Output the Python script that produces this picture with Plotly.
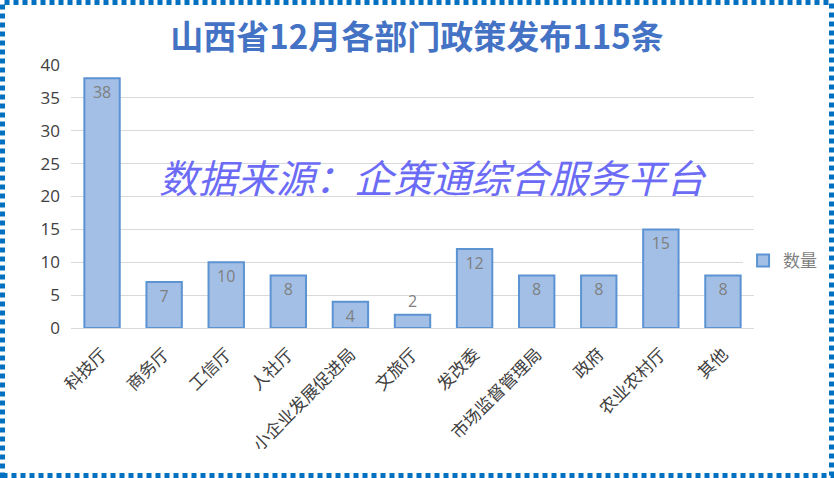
import plotly.graph_objects as go

categories = ["科技厅", "商务厅", "工信厅", "人社厅", "小企业发展促进局", "文旅厅",
              "发改委", "市场监督管理局", "政府", "农业农村厅", "其他"]
values = [38, 7, 10, 8, 4, 2, 12, 8, 8, 15, 8]
series_name = "数量"
title_text = "山西省12月各部门政策发布115条"
watermark = "数据来源：企策通综合服务平台"

fig = go.Figure()
fig.add_trace(go.Bar(
    x=categories, y=values, name=series_name,
    marker=dict(color="#A3BFE6", line=dict(color="#5B93D3", width=2)),
    text=values, textposition="auto", insidetextanchor="end", textangle=0,
    textfont=dict(color="#7F7F7F", size=16, family="Open Sans"),
    width=0.57, showlegend=True,
))

fig.update_layout(
    width=834, height=478,
    margin=dict(l=71, r=80, t=65, b=150, autoexpand=False),
    paper_bgcolor="white", plot_bgcolor="white",
    uniformtext=dict(minsize=15, mode="show"),
    title=dict(text="<b>" + title_text + "</b>", x=0.5, xanchor="center", y=0.921, yanchor="middle",
               font=dict(size=33, color="#4472C4", family="Noto Sans CJK SC")),
    xaxis=dict(tickangle=-45, tickfont=dict(size=17, color="#404040", family="Noto Sans CJK SC"),
               showline=False, ticks="", fixedrange=True, automargin=False,
               ticklabelstandoff=12),
    yaxis=dict(range=[0, 40], dtick=5, gridcolor="#D9D9D9", gridwidth=1, zeroline=True,
               zerolinecolor="#D9D9D9", zerolinewidth=1, automargin=False,
               tickfont=dict(size=17, color="#404040", family="Open Sans"), ticks="",
               ticklabelstandoff=10, fixedrange=True),
    legend=dict(x=0.984, y=0.255, xanchor="left", yanchor="middle",
                font=dict(size=17, color="#7F7F7F", family="Noto Sans CJK SC"),
                itemwidth=30),
    showlegend=True,
    font=dict(family="Noto Sans CJK SC"),
)

fig.add_annotation(text="<i>" + watermark + "</i>", xref="paper", yref="paper",
                   x=0.53, y=0.578, showarrow=False,
                   font=dict(size=39, color="#6B6BF5", family="Noto Sans CJK SC"))

# dotted page border
fig.add_shape(type="rect", xref="paper", yref="paper",
              x0=-68.5/683, x1=(831.5-71)/683, y0=-(475.5-328)/263, y1=(328-2.5)/263,
              line=dict(color="#0070C0", width=5, dash="5px,4px"), layer="above")

fig.write_html("out.html", config={"displayModeBar": False},
               post_script="document.body.style.margin='0';document.body.style.overflow='hidden';")
